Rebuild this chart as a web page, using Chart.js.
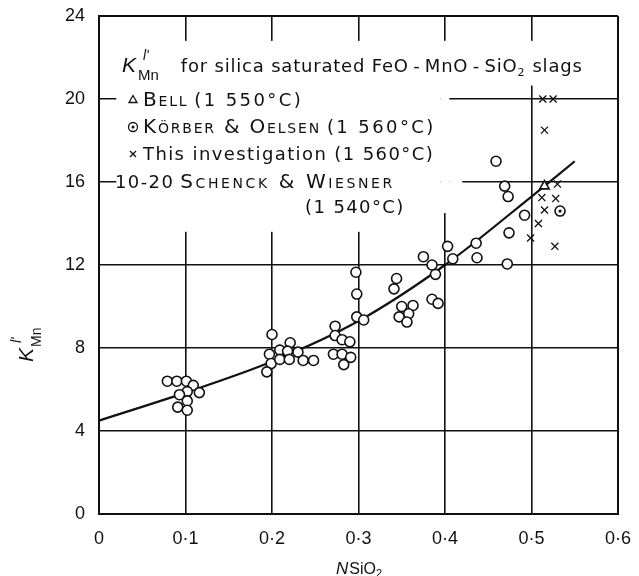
<!DOCTYPE html>
<html lang="en">
<head>
  <meta charset="UTF-8" />
  <title>K'Mn for silica saturated FeO-MnO-SiO2 slags</title>
  <script src="https://cdn.jsdelivr.net/npm/chart.js"></script>
  <style>
    html, body { margin: 0; padding: 0; background: #fff; }
    #wrap { width: 639px; height: 576px; position: relative; }
  </style>
</head>
<body>
  <div id="wrap"><canvas id="chartK"></canvas></div>

  <script>
    // Schenck & Wiesner, 1540 °C (open circles)
    const schenckN = [
      0.079, 0.090, 0.101, 0.109, 0.116, 0.102, 0.093, 0.102, 0.091, 0.102,
      0.200, 0.197, 0.209, 0.221, 0.218, 0.230, 0.199, 0.209, 0.220, 0.236, 0.248, 0.194,
      0.297, 0.298, 0.298, 0.306, 0.273, 0.273, 0.281, 0.290, 0.271, 0.281, 0.291, 0.283,
      0.341, 0.344, 0.350, 0.363, 0.358, 0.347, 0.356,
      0.385, 0.392, 0.403, 0.375, 0.385, 0.409, 0.389,
      0.459, 0.469, 0.473, 0.474, 0.492, 0.436, 0.437, 0.472
    ];
    const schenckK = [
      6.4, 6.4, 6.4, 6.2, 5.85, 5.9, 5.75, 5.45, 5.15, 5.0,
      8.65, 7.7, 7.9, 8.25, 7.85, 7.8, 7.25, 7.45, 7.45, 7.4, 7.4, 6.85,
      11.65, 10.6, 9.5, 9.35, 9.05, 8.6, 8.4, 8.3, 7.7, 7.7, 7.55, 7.2,
      10.85, 11.35, 10.0, 10.05, 9.65, 9.5, 9.25,
      10.35, 10.15, 12.9, 12.4, 12.0, 12.3, 11.55,
      17.0, 15.8, 15.3, 13.55, 14.4, 13.05, 12.35, 12.05
    ];

    // this investigation, 1560 °C (crosses)
    const thisN = [0.513, 0.525, 0.515, 0.530, 0.512, 0.528, 0.515, 0.508, 0.499, 0.527];
    const thisK = [20.0, 20.0, 18.5, 15.9, 15.25, 15.2, 14.65, 14.0, 13.3, 12.9];

    // Bell, 1550 °C
    const bellN = [0.515];
    const bellK = [15.8];

    // Körber & Oelsen, 1560 °C
    const korberN = [0.533];
    const korberK = [14.6];

    // smoothed curve through the data
    const curveN = [0, 0.1, 0.2, 0.3, 0.4, 0.5, 0.55];
    const curveK = [4.5, 5.85, 7.35, 9.3, 12.0, 15.3, 17.0];

    const xTicks = [0, 0.1, 0.2, 0.3, 0.4, 0.5, 0.6];
    const yTicks = [0, 4, 8, 12, 16, 20, 24];

    const INK = "#111";
    const FONT = '"Liberation Sans", Arial, sans-serif';
    const KEYFONT = '"DejaVu Sans", sans-serif';

    const pts = (xs, ys) => xs.map((x, i) => ({ x: x, y: ys[i] }));

    // regions of the grid left clear behind the key (data units)
    const blankAreas = [
      [0.02, 0.395, 13.6, 22.8],
      [0.395, 0.405, 14.5, 22.8],
      [0.405, 0.42, 15.5, 16.5],
      [0.395, 0.578, 20.65, 22.8]
    ];

    const blankPlugin = {
      id: "blankKey",
      beforeDatasetsDraw(chart) {
        const { ctx, scales: { x, y } } = chart;
        ctx.save();
        ctx.fillStyle = "#fff";
        blankAreas.forEach(([x0, x1, y0, y1]) => {
          const l = x.getPixelForValue(x0), r = x.getPixelForValue(x1);
          const t = y.getPixelForValue(y1), b = y.getPixelForValue(y0);
          ctx.fillRect(l, t, r - l, b - t);
        });
        ctx.restore();
      }
    };

    // draws a row of text pieces, each with its own font / shift / spacing
    function run(ctx, x, y, parts) {
      parts.forEach(p => {
        ctx.font = p.f;
        ctx.letterSpacing = p.ls || "0px";
        ctx.fillText(p.t, x, y + (p.dy || 0));
        x += ctx.measureText(p.t).width + (p.gap || 0);
      });
      ctx.letterSpacing = "0px";
      return x;
    }

    function marker(ctx, kind, cx, cy) {
      ctx.save();
      ctx.strokeStyle = INK;
      ctx.fillStyle = INK;
      ctx.lineWidth = 1.3;
      ctx.beginPath();
      if (kind === "tri") {
        ctx.moveTo(cx, cy - 4.5);
        ctx.lineTo(cx + 4, cy + 2.5);
        ctx.lineTo(cx - 4, cy + 2.5);
        ctx.closePath();
        ctx.stroke();
      } else if (kind === "ring") {
        ctx.arc(cx, cy, 4.5, 0, Math.PI * 2);
        ctx.stroke();
        ctx.beginPath();
        ctx.arc(cx, cy, 1.5, 0, Math.PI * 2);
        ctx.fill();
      } else {
        ctx.moveTo(cx - 3, cy - 3); ctx.lineTo(cx + 3, cy + 3);
        ctx.moveTo(cx + 3, cy - 3); ctx.lineTo(cx - 3, cy + 3);
        ctx.stroke();
      }
      ctx.restore();
    }

    const keyPlugin = {
      id: "keyText",
      afterDraw(chart) {
        const { ctx, chartArea: a } = chart;
        const reg = "18px " + KEYFONT;
        const sc = "small-caps 20px " + KEYFONT;
        const it = "italic 21px " + FONT;
        const sub = "15px " + FONT;
        const supI = "italic 14px " + FONT;
        ctx.save();
        ctx.fillStyle = INK;
        ctx.textBaseline = "alphabetic";
        ctx.textAlign = "left";

        // heading line
        let x = a.left + 23, y = a.top + 56;
        x = run(ctx, x, y, [{ t: "K", f: it, gap: 2 }]);
        run(ctx, x + 5, y, [{ t: "l'", f: supI, dy: -12 }]);
        x = run(ctx, x, y, [{ t: "Mn", f: sub, dy: 8, gap: 22 }]);
        run(ctx, x, y, [
          { t: "for silica saturated FeO\u2009-\u2009MnO\u2009-\u2009SiO", f: reg, ls: "0.8px" },
          { t: "2", f: "11px " + KEYFONT, dy: 4, gap: 8 },
          { t: "slags", f: reg, ls: "0.8px" }
        ]);

        // key entries
        const mx = a.left + 34, tx = a.left + 44;
        marker(ctx, "tri", mx, a.top + 84);
        run(ctx, tx, a.top + 90, [
          { t: "Bell", f: sc, ls: "1.8px", gap: 6 },
          { t: "(1 550°C)", f: reg, ls: "2.4px" }
        ]);
        marker(ctx, "ring", mx, a.top + 111);
        run(ctx, tx, a.top + 117, [
          { t: "Körber & Oelsen", f: sc, ls: "1.8px", gap: 6 },
          { t: "(1 560°C)", f: reg, ls: "2.4px" }
        ]);
        marker(ctx, "cross", mx, a.top + 138);
        run(ctx, tx, a.top + 144, [{ t: "This investigation (1 560°C)", f: reg, ls: "1.4px" }]);
        run(ctx, a.left + 16, a.top + 172, [
          { t: "10-20", f: reg, ls: "1.4px", gap: 6 },
          { t: "Schenck & Wiesner", f: sc, ls: "2.6px" }
        ]);
        run(ctx, a.left + 206, a.top + 197, [{ t: "(1 540°C)", f: reg, ls: "1.4px" }]);

        // x axis title
        run(ctx, 336, 574, [
          { t: "N", f: "italic 17px " + FONT, gap: 1 },
          { t: "SiO", f: "16px " + FONT },
          { t: "2", f: "11px " + FONT, dy: 3 }
        ]);

        // y axis title
        ctx.translate(33, 362);
        ctx.rotate(-Math.PI / 2);
        let yx = run(ctx, 0, 0, [{ t: "K", f: it, gap: 1 }]);
        run(ctx, yx + 4, 0, [{ t: "l'", f: supI, dy: -12 }]);
        run(ctx, yx, 0, [{ t: "Mn", f: "14px " + FONT, dy: 8 }]);
        ctx.restore();
      }
    };

    const edgeWidth = (max) => (c) => (c.tick && (c.tick.value === 0 || c.tick.value === max) ? 2 : 1.6);

    new Chart(document.getElementById("chartK"), {
      type: "scatter",
      data: {
        datasets: [
          {
            label: "Schenck & Wiesner (1 540°C)",
            data: pts(schenckN, schenckK),
            pointStyle: "circle",
            pointRadius: 5,
            pointBackgroundColor: "#fff",
            pointBorderColor: INK,
            pointBorderWidth: 1.6,
            order: 1
          },
          {
            label: "This investigation (1 560°C)",
            data: pts(thisN, thisK),
            pointStyle: "crossRot",
            pointRadius: 5,
            pointBorderColor: INK,
            pointBorderWidth: 1.3,
            order: 1
          },
          {
            label: "Bell (1 550°C)",
            data: pts(bellN, bellK),
            pointStyle: "triangle",
            pointRadius: 5.5,
            pointBackgroundColor: "#fff",
            pointBorderColor: INK,
            pointBorderWidth: 1.6,
            order: 1
          },
          {
            label: "Körber & Oelsen (1 560°C)",
            data: pts(korberN, korberK),
            pointStyle: "circle",
            pointRadius: 5,
            pointBackgroundColor: "#fff",
            pointBorderColor: INK,
            pointBorderWidth: 1.6,
            order: 1
          },
          {
            label: "Körber & Oelsen centre",
            data: pts(korberN, korberK),
            pointStyle: "circle",
            pointRadius: 1.6,
            pointBackgroundColor: INK,
            pointBorderWidth: 0,
            order: 0
          },
          {
            type: "line",
            label: "curve",
            data: pts(curveN, curveK),
            borderColor: INK,
            borderWidth: 2.2,
            pointRadius: 0,
            cubicInterpolationMode: "monotone",
            fill: false,
            order: 5
          }
        ]
      },
      options: {
        responsive: true,
        maintainAspectRatio: false,
        animation: false,
        devicePixelRatio: 1,
        events: [],
        layout: { padding: { top: 16, right: 21, left: 0, bottom: 0 } },
        plugins: {
          legend: { display: false },
          tooltip: { enabled: false },
          title: { display: false }
        },
        scales: {
          x: {
            type: "linear",
            min: 0,
            max: 0.6,
            afterBuildTicks: (s) => { s.ticks = xTicks.map(v => ({ value: v })); },
            afterFit: (s) => { s.height = 62; s.paddingLeft = 0; s.paddingRight = 0; },
            ticks: {
              color: INK,
              padding: 14,
              font: { family: FONT, size: 18 },
              callback: (v) => (v === 0 ? "0" : v.toFixed(1).replace(".", "·"))
            },
            grid: { color: INK, lineWidth: edgeWidth(0.6), drawTicks: false },
            border: { display: true, color: INK, width: 2 }
          },
          y: {
            min: 0,
            max: 24,
            afterBuildTicks: (s) => { s.ticks = yTicks.map(v => ({ value: v })); },
            afterFit: (s) => { s.width = 99; s.paddingTop = 0; s.paddingBottom = 0; },
            ticks: {
              color: INK,
              padding: 14,
              font: { family: FONT, size: 18 }
            },
            grid: { color: INK, lineWidth: edgeWidth(24), drawTicks: false },
            border: { display: true, color: INK, width: 2 }
          }
        }
      },
      plugins: [blankPlugin, keyPlugin]
    });
  </script>
</body>
</html>
